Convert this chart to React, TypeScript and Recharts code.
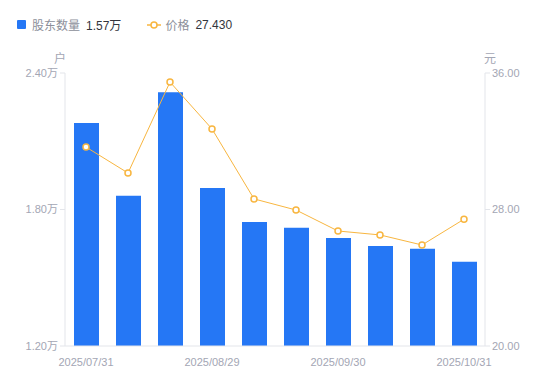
import React from 'react';
import { ComposedChart, Bar, Line, XAxis, YAxis } from 'recharts';

const dates = [
  '2025/07/31', '2025/08/08', '2025/08/20', '2025/08/29', '2025/09/10',
  '2025/09/19', '2025/09/30', '2025/10/10', '2025/10/20', '2025/10/31',
];
const holders = [2.18, 1.86, 2.315, 1.895, 1.745, 1.72, 1.675, 1.64, 1.627, 1.57];
const prices = [31.66, 30.14, 35.47, 32.72, 28.62, 27.97, 26.74, 26.51, 25.92, 27.43];
const leftTicks = [1.2, 1.8, 2.4];
const rightTicks = [20, 28, 36];

const data = dates.map((d, i) => ({ date: d, holders: holders[i], price: prices[i] }));

const FONT = '"Liberation Sans", "Noto Sans CJK SC", sans-serif';
const TICK = { fill: '#A3A6B4', fontSize: 11, fontFamily: FONT };
const AXIS = '#E3E5EA';

export default function App() {
  return (
    <div style={{ position: 'absolute', left: 0, top: 0, width: 550, height: 381, fontFamily: FONT }}>
      <div style={{ position: 'absolute', left: 17, top: 16, display: 'flex', alignItems: 'center', fontSize: 12 }}>
        <span style={{ width: 9, height: 9, background: '#2577F5', borderRadius: 1, marginRight: 6 }} />
        <span style={{ color: '#8C8F9A', marginRight: 6 }}>股东数量</span>
        <span style={{ color: '#33353C' }}>1.57万</span>
        <svg width="14" height="10" style={{ marginLeft: 26, marginRight: 4 }}>
          <line x1="0" y1="5" x2="14" y2="5" stroke="#F8B640" strokeWidth="1.5" />
          <circle cx="7" cy="5" r="3" fill="#fff" stroke="#F8B640" strokeWidth="1.5" />
        </svg>
        <span style={{ color: '#8C8F9A', marginRight: 6 }}>价格</span>
        <span style={{ color: '#33353C' }}>27.430</span>
      </div>
      <div style={{ position: 'absolute', left: 54, top: 49, fontSize: 12, color: '#A3A6B4' }}>户</div>
      <div style={{ position: 'absolute', left: 484, top: 49, fontSize: 12, color: '#A3A6B4' }}>元</div>
      <ComposedChart
        width={550}
        height={381}
        data={data}
        margin={{ top: 73, right: 0, bottom: 10, left: 0 }}
        barSize={25}
      >
        <XAxis
          dataKey="date"
          interval={2}
          tickLine={false}
          axisLine={{ stroke: AXIS }}
          tick={TICK}
          tickMargin={6}
          height={25}
        />
        <YAxis
          yAxisId="left"
          orientation="left"
          domain={[1.2, 2.4]}
          ticks={leftTicks}
          tickFormatter={(v: number) => v.toFixed(2) + '万'}
          axisLine={{ stroke: AXIS }}
          tickLine={{ stroke: AXIS }}
          tickSize={5}
          tickMargin={2}
          tick={TICK}
          width={65}
        />
        <YAxis
          yAxisId="right"
          orientation="right"
          domain={[20, 36]}
          ticks={rightTicks}
          tickFormatter={(v: number) => v.toFixed(2)}
          axisLine={{ stroke: AXIS }}
          tickLine={{ stroke: AXIS }}
          tickSize={5}
          tickMargin={2}
          tick={TICK}
          width={65}
        />
        <Bar yAxisId="left" dataKey="holders" fill="#2577F5" isAnimationActive={false} />
        <Line
          yAxisId="right"
          dataKey="price"
          type="linear"
          stroke="#F8B640"
          strokeWidth={1}
          dot={{ r: 3, fill: '#fff', stroke: '#F8B640', strokeWidth: 1.5 }}
          isAnimationActive={false}
        />
      </ComposedChart>
    </div>
  );
}
